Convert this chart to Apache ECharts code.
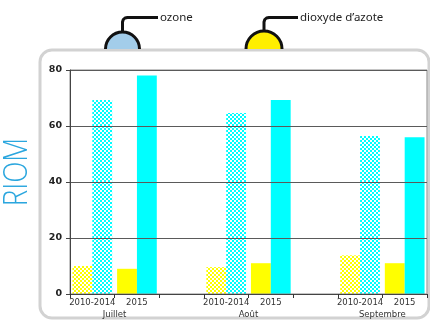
<!DOCTYPE html>
<html>
<head>
<meta charset="utf-8">
<script src="https://cdn.jsdelivr.net/npm/echarts@6/dist/echarts.min.js"></script>
<style>
  html, body { margin: 0; padding: 0; background: #fff; }
  #chart { width: 430px; height: 321px; }
</style>
</head>
<body>
<div id="chart"></div>
<script>
// Monthly means (µg/m³) at Riom: 2010-2014 average vs 2015
const months = ['Juillet', 'Août', 'Septembre'];
const periods = ['2010-2014', '2015'];
const no2Avg = [10, 9.6, 13.8];   // dioxyde d'azote, 2010-2014
const no2Year = [9, 11, 11];      // dioxyde d'azote, 2015
const o3Avg = [69.3, 64.6, 56.4]; // ozone, 2010-2014
const o3Year = [78, 69.3, 56];    // ozone, 2015
const yTicks = [0, 20, 40, 60, 80];
const stationName = 'RIOM';
const legendNames = ['ozone', 'dioxyde d\u2019azote'];

// checkerboard fill used for the multi-year averages
function checker(color) {
  const c = document.createElement('canvas');
  c.width = 4; c.height = 4;
  const g = c.getContext('2d');
  g.fillStyle = '#ffffff';
  g.fillRect(0, 0, 4, 4);
  g.fillStyle = color;
  g.fillRect(0, 0, 2, 2);
  g.fillRect(2, 2, 2, 2);
  return { image: c, repeat: 'repeat' };
}

const YELLOW = '#ffff00';
const CYAN = '#00ffff';

// categories: period pairs per month, with an empty slot between months
const categories = [];
const no2Data = [];
const o3Data = [];
months.forEach((m, i) => {
  if (i > 0) {
    categories.push('');
    no2Data.push('-');
    o3Data.push('-');
  }
  categories.push(periods[0], periods[1]);
  no2Data.push({ value: no2Avg[i], itemStyle: { color: checker(YELLOW) } },
               { value: no2Year[i], itemStyle: { color: YELLOW } });
  o3Data.push({ value: o3Avg[i], itemStyle: { color: checker(CYAN) } },
              { value: o3Year[i], itemStyle: { color: CYAN } });
});
// month label positions on a 0..N value scale (between the two bars of each pair)
const monthPos = {};
months.forEach((m, i) => { monthPos[i * 3 + 1] = m; });

// legend marker: dome with a leader line to its label
function legendMarker(cx, r, fill, lineEndX, label) {
  const top = 49 - r;
  return [
    {
      type: 'sector', z: 10, silent: true,
      shape: { cx: cx, cy: 49, r0: 0, r: r, startAngle: Math.PI, endAngle: Math.PI * 2 },
      style: { fill: fill }
    },
    {
      type: 'arc', z: 11, silent: true,
      shape: { cx: cx, cy: 49, r: r - 0.5, startAngle: Math.PI, endAngle: Math.PI * 2 },
      style: { stroke: '#111', lineWidth: 3, fill: 'none' }
    },
    {
      type: 'polyline', z: 11, silent: true,
      shape: { points: [[cx, top + 1], [cx, 22], [cx + 0.8, 19.5], [cx + 2.5, 18], [cx + 5, 17.5], [lineEndX, 17.5]] },
      style: { stroke: '#111', lineWidth: 3, fill: 'none', lineJoin: 'round' }
    },
    {
      type: 'text', z: 11, silent: true,
      x: lineEndX + 2, y: 17.5,
      style: {
        text: label, fill: '#222',
        font: '11.5px "Noto Sans", sans-serif', verticalAlign: 'middle'
      }
    }
  ];
}

const chart = echarts.init(document.getElementById('chart'), null, { renderer: 'canvas' });

const option = {
  animation: false,
  backgroundColor: '#ffffff',
  grid: {
    left: 70, top: 70, right: 3, bottom: 27,
    show: true, borderColor: '#8a8a8a', borderWidth: 1, backgroundColor: 'transparent',
    z: 3
  },
  xAxis: [
    {
      type: 'category',
      data: categories,
      boundaryGap: true,
      axisLine: { show: true, lineStyle: { color: '#444', width: 1 } },
      axisTick: { show: true, interval: 0, inside: false, length: 4, lineStyle: { color: '#333', width: 1 } },
      axisLabel: {
        interval: 0, margin: 4, color: '#333',
        fontFamily: 'DejaVu Sans', fontSize: 8.5
      },
      z: 5
    },
    {
      type: 'value',
      position: 'bottom',
      min: 0, max: categories.length, interval: 1,
      offset: 12,
      axisLine: { show: false },
      axisTick: { show: false },
      splitLine: { show: false },
      axisLabel: {
        margin: 4, color: '#333', fontFamily: 'DejaVu Sans', fontSize: 8.5,
        showMinLabel: true, showMaxLabel: true,
        formatter: v => monthPos[v] || ''
      }
    }
  ],
  yAxis: {
    type: 'value',
    min: yTicks[0], max: yTicks[yTicks.length - 1], interval: 20,
    axisLine: { show: true, lineStyle: { color: '#444', width: 1 } },
    axisTick: { show: true, length: 4, lineStyle: { color: '#444' } },
    axisLabel: {
      margin: 8, color: '#222', fontWeight: 'bold',
      fontFamily: 'DejaVu Sans', fontSize: 9.5
    },
    splitLine: { lineStyle: { color: '#5a5a5a', width: 1 } },
    z: 5
  },
  series: [
    {
      name: legendNames[1],
      type: 'bar',
      data: no2Data,
      barGap: '0%',
      barCategoryGap: '11%',
      z: 2
    },
    {
      name: legendNames[0],
      type: 'bar',
      data: o3Data,
      barGap: '0%',
      barCategoryGap: '11%',
      z: 2
    }
  ],
  graphic: [
    // rounded frame around the plot
    {
      type: 'rect', z: 0, silent: true,
      shape: { x: 40, y: 50, width: 389, height: 268, r: 12 },
      style: { fill: 'none', stroke: '#d2d2d2', lineWidth: 3 }
    },
    // station name, vertical
    {
      type: 'text', z: 10, silent: true,
      x: 18, y: 172, rotation: Math.PI / 2, scaleX: 0.84,
      style: {
        text: stationName, fill: '#2aa6de',
        font: '300 33px "Open Sans", "DejaVu Sans", sans-serif',
        align: 'center', verticalAlign: 'middle'
      }
    }
  ].concat(
    legendMarker(122.5, 17.5, '#a3cdea', 158, legendNames[0]),
    legendMarker(264, 18.5, '#ffef00', 298, legendNames[1])
  )
};

chart.setOption(option);
</script>
</body>
</html>
